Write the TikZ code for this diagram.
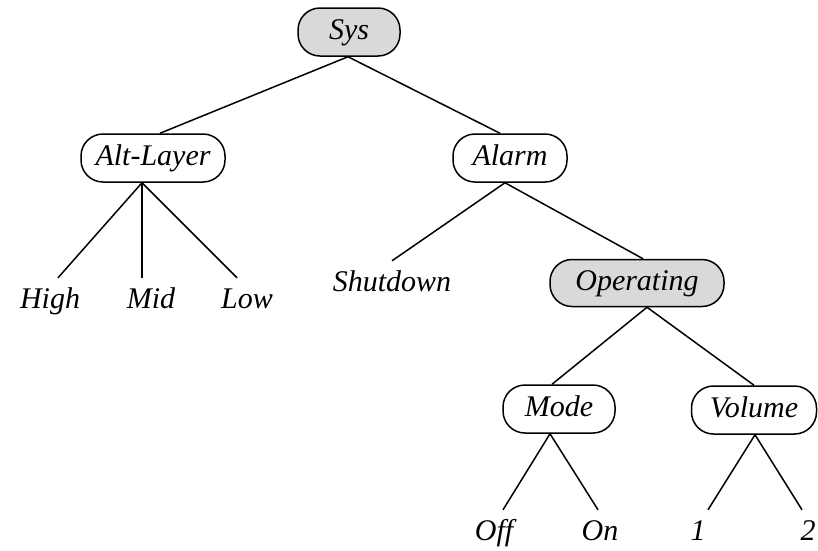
\documentclass[tikz,border=0pt]{standalone}
\usepackage{fontspec}
\setmainfont{Liberation Serif}
\definecolor{boxgray}{RGB}{217,217,217}
\begin{document}
\begin{tikzpicture}[x=1pt,y=-1pt,
  every node/.style={font=\fontsize{30}{36}\selectfont\itshape},
  state/.style={draw, line width=1.5pt, rounded corners=22pt, minimum height=48pt, inner sep=0pt, text height=21pt, text depth=6pt},
  hi/.style={state, fill=boxgray},
  leaf/.style={anchor=base, inner xsep=0pt, inner ysep=9pt, text height=21pt, text depth=6pt},
  edge/.style={line width=1.5pt}]
\path[use as bounding box] (0,0) rectangle (818,550);
\node[hi, minimum width=102pt] (sys) at (349,32) {Sys};
\node[state, minimum width=144pt] (alt) at (153,158) {Alt-Layer};
\node[state, minimum width=114pt] (alarm) at (510,158) {Alarm};
\node[hi, minimum width=174pt, minimum height=47pt] (oper) at (637,283) {Operating};
\node[state, minimum width=112pt] (mode) at (559,409) {Mode};
\node[state, minimum width=125pt] (vol) at (754,410) {Volume};
\node[leaf] (high) at (50,308) {High};
\node[leaf] (mid) at (151,308) {Mid};
\node[leaf] (low) at (247,308) {Low};
\node[leaf] (shut) at (392,291) {Shutdown};
\node[leaf] (off) at (494,540) {Off};
\node[leaf] (on) at (600,540) {On};
\node[leaf] (one) at (698,540) {1};
\node[leaf] (two) at (808,540) {2};
\draw[edge] ([xshift=-1pt]sys.south) -- ([xshift=7pt]alt.north);
\draw[edge] ([xshift=-1pt]sys.south) -- ([xshift=-10pt]alarm.north);
\draw[edge] ([xshift=-11pt]alt.south) -- ([xshift=8pt]high.north);
\draw[edge] ([xshift=-11pt]alt.south) -- ([xshift=-9pt]mid.north);
\draw[edge] ([xshift=-11pt]alt.south) -- ([xshift=-10pt]low.north);
\draw[edge] ([xshift=-5pt]alarm.south) -- (shut.north);
\draw[edge] ([xshift=-5pt]alarm.south) -- ([xshift=6pt]oper.north);
\draw[edge] ([xshift=10pt]oper.south) -- ([xshift=-7pt]mode.north);
\draw[edge] ([xshift=10pt]oper.south) -- (vol.north);
\draw[edge] ([xshift=-9pt]mode.south) -- ([xshift=9pt]off.north);
\draw[edge] ([xshift=-9pt]mode.south) -- ([xshift=-2pt]on.north);
\draw[edge] ([xshift=1pt]vol.south) -- ([xshift=10pt]one.north);
\draw[edge] ([xshift=1pt]vol.south) -- ([xshift=-6pt]two.north);
\end{tikzpicture}
\end{document}
